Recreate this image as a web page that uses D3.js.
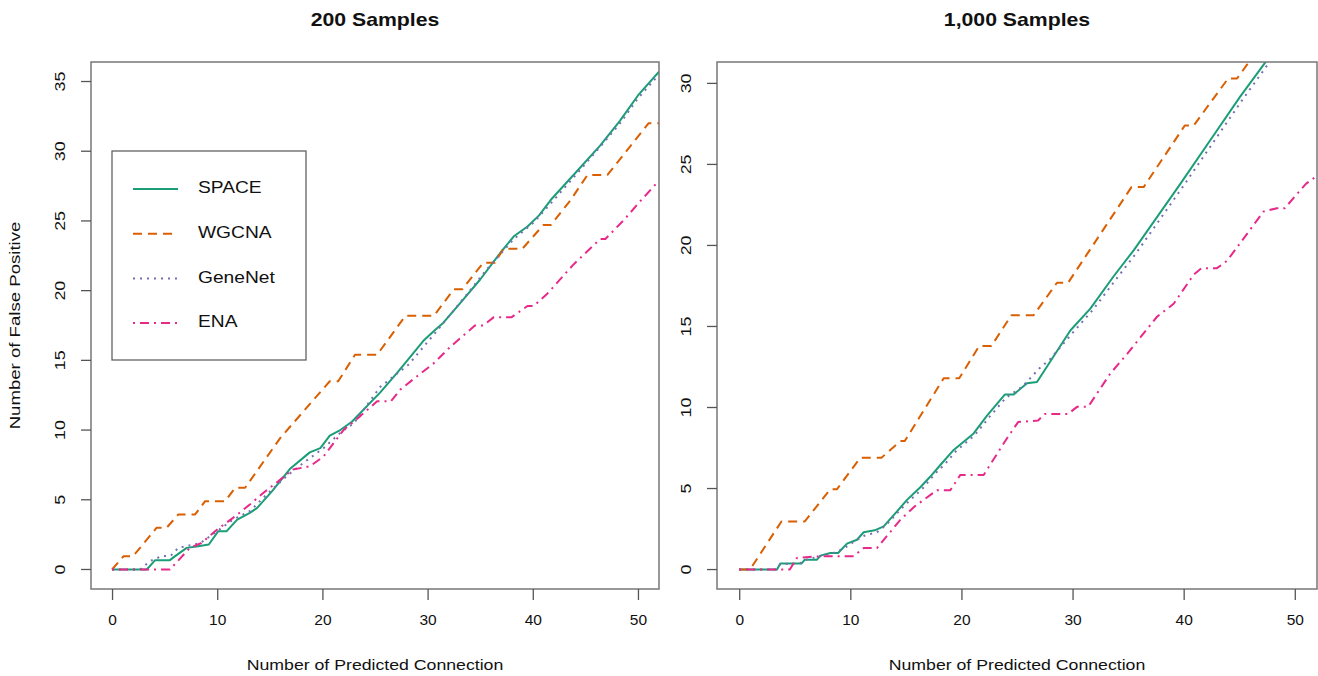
<!DOCTYPE html>
<html>
<head>
<meta charset="utf-8">
<script src="https://cdn.jsdelivr.net/npm/d3@7/dist/d3.min.js"></script>
<style>
  html, body { margin: 0; padding: 0; background: #fff; }
  svg text { font-family: "Liberation Sans", Arial, Helvetica, sans-serif; fill: #111; }
</style>
</head>
<body>
<svg id="chart" width="1318" height="676"></svg>
<script>
// ---------- data ----------
const seriesNames = ["SPACE", "WGCNA", "GeneNet", "ENA"];
const seriesColors = ["#1B9E77", "#D95F02", "#7570B3", "#E7298A"];
const xTicks = [0, 10, 20, 30, 40, 50];
const yTicks200 = [0, 5, 10, 15, 20, 25, 30, 35];
const yTicks1000 = [0, 5, 10, 15, 20, 25, 30];
const panelTitles = ["200 Samples", "1,000 Samples"];

// 200 samples
const space200 = [[0,0],[3.3,0],[4.1,0.67],[5.5,0.67],[6.0,0.96],[7.1,1.55],[8.2,1.67],[9.2,1.79],[10.1,2.75],[10.9,2.75],[11.9,3.58],[13.1,4.06],[13.8,4.42],[15.2,5.6],[16.9,7.2],[18.8,8.4],[19.8,8.7],[20.7,9.6],[21.7,10.0],[22.8,10.6],[25.5,12.7],[27.1,14.1],[29.6,16.4],[30.6,17.1],[31.5,17.7],[33.1,19.1],[35.0,20.8],[36.9,22.7],[38.2,23.9],[39.5,24.6],[40.6,25.4],[41.7,26.5],[44.0,28.4],[46.4,30.4],[48.3,32.2],[50.0,34.0],[52.0,35.7]];
const wgcna200 = [[0,0],[1.1,0.95],[2.0,0.95],[4.25,3.0],[5.2,3.0],[6.3,3.95],[7.9,3.95],[8.85,4.9],[10.75,4.9],[11.7,5.86],[12.65,5.86],[16.0,9.44],[20.7,13.5],[21.5,13.5],[23.1,15.4],[25.2,15.4],[27.9,18.2],[30.6,18.2],[32.5,20.1],[33.3,20.1],[35.3,22.0],[36.4,22.0],[37.2,23.0],[39.0,23.0],[41.0,24.7],[41.7,24.7],[43.6,26.5],[45.2,28.3],[47.1,28.3],[51.0,32.0],[52.0,32.0]];
const genenet200 = [[0,0],[2.66,0],[3.6,0.6],[4.7,0.95],[5.6,1.0],[6.3,1.55],[8.4,1.9],[10.0,2.75],[11.5,3.58],[13.1,4.18],[14.7,5.38],[16.6,6.7],[18.2,7.65],[20.1,8.7],[21.7,9.8],[23.0,10.5],[25.5,13.1],[28.2,14.7],[31.2,17.4],[33.7,19.7],[35.6,21.5],[38.2,23.7],[40.1,24.9],[42.0,26.5],[44.2,28.4],[46.5,30.4],[48.4,32.1],[50.0,33.8],[52.0,35.5]];
const ena200 = [[0,0],[5.5,0],[7.4,1.55],[8.5,1.9],[10.0,2.87],[11.5,3.7],[13.1,4.66],[14.4,5.5],[15.8,6.33],[17.2,7.17],[18.8,7.4],[20.1,8.1],[22.0,10.0],[23.6,11.0],[25.2,12.06],[26.5,12.06],[27.4,12.9],[29.0,13.86],[30.6,14.8],[32.2,16.0],[34.5,17.5],[35.3,17.5],[36.3,18.1],[38.0,18.1],[39.5,18.9],[40.1,18.9],[41.4,19.8],[43.9,21.9],[46.4,23.7],[46.9,23.7],[48.7,25.1],[50.2,26.4],[52.0,27.9]];

// 1,000 samples
const space1000 = [[0,0],[3.4,0],[3.7,0.37],[5.6,0.37],[5.9,0.61],[7.0,0.61],[7.3,0.86],[8.2,1.02],[8.9,1.02],[9.7,1.6],[10.6,1.84],[11.2,2.3],[12.2,2.42],[13.0,2.66],[14.2,3.59],[15.1,4.3],[16.3,5.08],[17.2,5.74],[18.1,6.45],[19.3,7.38],[21.1,8.4],[22.3,9.5],[23.9,10.8],[24.7,10.8],[25.9,11.5],[26.8,11.57],[29.8,14.75],[31.6,16.1],[33.7,18.1],[35.5,19.7],[39.7,23.8],[42.7,26.8],[45.1,29.2],[47.3,31.25],[47.8,31.8]];
const wgcna1000 = [[0,0],[0.97,0],[3.8,2.97],[5.9,2.97],[8.2,4.96],[8.8,4.96],[10.9,6.9],[12.8,6.9],[14.5,7.93],[14.9,7.93],[18.4,11.8],[19.8,11.8],[21.6,13.8],[22.7,13.8],[24.5,15.7],[26.5,15.7],[28.6,17.7],[29.6,17.7],[35.3,23.6],[36.4,23.6],[40.1,27.4],[40.9,27.4],[44.0,30.3],[44.8,30.3],[46.6,32.0]];
const genenet1000 = [[0,0],[3.3,0],[3.7,0.33],[5.5,0.4],[6.2,0.65],[7.2,0.8],[8.4,1.0],[9.4,1.3],[10.4,1.75],[11.3,2.1],[12.4,2.3],[13.3,2.8],[14.5,3.7],[15.4,4.3],[16.5,5.0],[17.6,5.9],[18.5,6.5],[19.5,7.3],[21.2,8.3],[22.5,9.4],[24.0,10.6],[25.5,11.3],[27.0,12.4],[28.0,13.0],[30.0,14.6],[31.8,16.0],[33.9,17.9],[35.7,19.5],[39.9,23.6],[42.9,26.6],[45.3,29.0],[47.5,31.1],[48.0,31.7]];
const ena1000 = [[0,0],[4.55,0],[5.2,0.72],[7.3,0.82],[10.3,0.82],[11.2,1.33],[12.4,1.33],[14.5,3.07],[15.8,3.9],[17.8,4.9],[19.0,4.9],[19.9,5.84],[22.0,5.84],[24.1,8.1],[25.1,9.1],[26.9,9.2],[27.5,9.6],[29.6,9.6],[30.4,10.04],[31.4,10.04],[33.4,12.1],[34.9,13.3],[37.6,15.6],[39.1,16.4],[40.9,18.2],[41.6,18.6],[43.0,18.6],[43.9,19.05],[47.2,22.1],[48.4,22.3],[49.1,22.3],[51.0,23.8],[52.0,24.3]];

const panels = [
  { title: panelTitles[0], series: [space200, wgcna200, genenet200, ena200], yTicks: yTicks200, yDomain: [-1.4, 36.4], left: 91, right: 659, legend: true },
  { title: panelTitles[1], series: [space1000, wgcna1000, genenet1000, ena1000], yTicks: yTicks1000, yDomain: [-1.2, 31.32], left: 717, right: 1317, legend: false }
];
const dashes = [null, "9,6", "2,5", "2,5,9,5"];
const plotTop = 62, plotBottom = 589;
const stretch = 1.18;

const svg = d3.select("#chart");

panels.forEach((p, pi) => {
  const x = d3.scaleLinear().domain([-2, 52]).range([p.left, p.right]);
  const y = d3.scaleLinear().domain(p.yDomain).range([plotBottom, plotTop]);
  const g = svg.append("g");

  const clipId = "clip" + pi;
  svg.append("clipPath").attr("id", clipId)
    .append("rect").attr("x", p.left).attr("y", plotTop)
    .attr("width", p.right - p.left).attr("height", plotBottom - plotTop);

  // lines
  const line = d3.line().x(d => x(d[0])).y(d => y(d[1]));
  const lg = g.append("g").attr("clip-path", `url(#${clipId})`);
  p.series.forEach((s, si) => {
    lg.append("path").datum(s)
      .attr("d", line)
      .attr("fill", "none")
      .attr("stroke", seriesColors[si])
      .attr("stroke-width", 2)
      .attr("stroke-linejoin", "round")
      .attr("stroke-dasharray", dashes[si]);
  });

  // frame
  g.append("rect").attr("x", p.left).attr("y", plotTop)
    .attr("width", p.right - p.left).attr("height", plotBottom - plotTop)
    .attr("fill", "none").attr("stroke", "#777").attr("stroke-width", 1.5);

  // x axis
  const xa = g.append("g").attr("transform", `translate(0,${plotBottom})`)
    .call(d3.axisBottom(x).tickValues(xTicks).tickSize(11).tickPadding(14).tickFormat(d3.format("d")));
  xa.select(".domain").remove();
  xa.selectAll("line").attr("stroke", "#555").attr("stroke-width", 1.3);
  xa.selectAll("text").attr("font-size", 15.5).attr("fill", "#111");

  // y axis
  const ya = g.append("g").attr("transform", `translate(${p.left},0)`)
    .call(d3.axisLeft(y).tickValues(p.yTicks).tickSize(10).tickFormat(d3.format("d")));
  ya.select(".domain").remove();
  ya.selectAll("line").attr("stroke", "#555").attr("stroke-width", 1.3);
  ya.selectAll(".tick").attr("transform", null);
  ya.selectAll(".tick line").attr("transform", d => `translate(0,${y(d)})`);
  ya.selectAll(".tick text")
    .attr("font-size", 15.5).attr("fill", "#111")
    .attr("text-anchor", "middle").attr("dy", null).attr("x", null).attr("y", null)
    .attr("dominant-baseline", "middle")
    .attr("transform", d => `translate(-30,${y(d)}) rotate(-90) scale(1.15,1)`);

  // title
  svg.append("text").attr("transform", `translate(${(p.left + p.right) / 2},26) scale(${stretch},1)`)
    .attr("text-anchor", "middle").attr("font-size", 18).attr("font-weight", "bold")
    .text(p.title);

  // x label
  svg.append("text").attr("transform", `translate(${(p.left + p.right) / 2},670) scale(${stretch},1)`)
    .attr("text-anchor", "middle").attr("font-size", 15)
    .text("Number of Predicted Connection");

  if (p.legend) {
    const lgX = 112, lgY = 151, lgW = 194, lgH = 209;
    const leg = svg.append("g");
    leg.append("rect").attr("x", lgX).attr("y", lgY).attr("width", lgW).attr("height", lgH)
      .attr("fill", "#fff").attr("stroke", "#555").attr("stroke-width", 1.2);
    seriesNames.forEach((n, i) => {
      const ry = 189 + i * 44.7;
      leg.append("line").attr("x1", 133).attr("x2", 178).attr("y1", ry).attr("y2", ry)
        .attr("stroke", seriesColors[i]).attr("stroke-width", 2)
        .attr("stroke-dasharray", dashes[i]);
      leg.append("text").attr("transform", `translate(198,${ry}) scale(1.2,1)`)
        .attr("dominant-baseline", "middle")
        .attr("font-size", 16).text(n);
    });
  }
});

// y label
svg.append("text").attr("transform", "translate(20,325.5) rotate(-90) scale(1.2,1)")
  .attr("text-anchor", "middle").attr("font-size", 15.5)
  .text("Number of False Positive");
</script>
</body>
</html>
